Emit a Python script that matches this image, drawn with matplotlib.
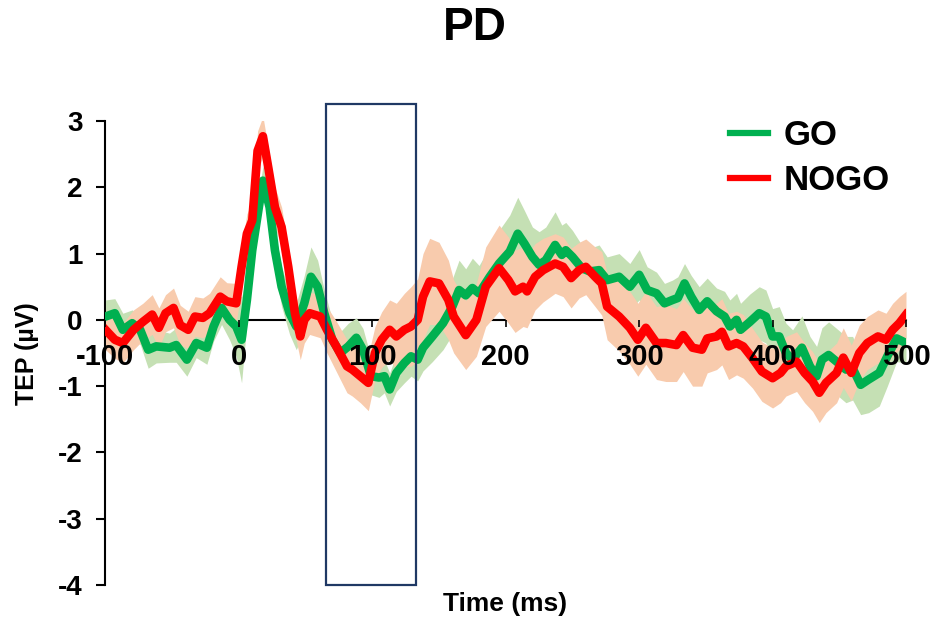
import numpy as np
import matplotlib
matplotlib.use("Agg")
import matplotlib.pyplot as plt
from matplotlib.patches import Rectangle

plt.rcParams['font.family'] = ['Liberation Sans', 'DejaVu Sans']
plt.rcParams['font.weight'] = 'bold'
plt.rcParams['axes.unicode_minus'] = False

# GO condition: time (ms), mean TEP (uV), error half-width
go_t = [-100, -93, -87, -80, -74, -68, -62, -52, -47, -39, -32, -24, -19, -13, -7, -2, 2, 6, 10, 18,
        23, 27, 32, 38, 43, 49, 54, 59, 64, 70, 76, 82, 88, 93, 99, 105, 109, 113, 118, 124,
        129, 134, 138, 145, 153, 160, 165, 170, 175, 180, 188, 195, 203, 209, 214, 220, 225, 230, 237, 242,
        245, 250, 257, 263, 270, 276, 285, 293, 300, 306, 313, 319, 325, 329, 334, 339, 345, 351, 358, 364,
        368, 373, 376, 383, 390, 395, 400, 405, 410, 415, 422, 428, 433, 437, 442, 448, 455, 460, 466, 472,
        480, 486, 493, 500]
go_v = [0.05, 0.1, -0.15, -0.05, -0.15, -0.45, -0.4, -0.42, -0.38, -0.6, -0.35, -0.42, -0.1, 0.18, 0.0, -0.1, -0.3, 0.3, 1.05, 2.1,
        1.7, 1.05, 0.5, 0.1, -0.1, 0.25, 0.65, 0.5, 0.1, -0.3, -0.5, -0.4, -0.27, -0.45, -0.85, -0.87, -0.85, -1.05, -0.8, -0.65,
        -0.55, -0.6, -0.42, -0.25, -0.05, 0.2, 0.45, 0.37, 0.48, 0.4, 0.65, 0.85, 1.03, 1.3, 1.15, 0.95, 0.83, 0.9, 1.13, 0.98,
        1.05, 0.95, 0.78, 0.73, 0.75, 0.6, 0.65, 0.5, 0.68, 0.45, 0.4, 0.25, 0.3, 0.33, 0.55, 0.35, 0.15, 0.28, 0.13, 0.05,
        -0.1, 0.0, -0.15, -0.03, 0.1, 0.05, -0.25, -0.25, -0.5, -0.6, -0.42, -0.7, -0.85, -0.6, -0.53, -0.63, -0.75, -0.73, -0.98, -0.9,
        -0.8, -0.55, -0.28, -0.35]
go_e = [0.25, 0.22, 0.25, 0.2, 0.22, 0.28, 0.25, 0.22, 0.26, 0.25, 0.22, 0.25, 0.22, 0.25, 0.3, 0.45, 0.65, 0.35, 0.25, 0.22,
        0.25, 0.28, 0.3, 0.32, 0.35, 0.42, 0.45, 0.4, 0.35, 0.3, 0.32, 0.35, 0.3, 0.32, 0.28, 0.3, 0.25, 0.25, 0.28, 0.3,
        0.3, 0.32, 0.35, 0.38, 0.4, 0.42, 0.45, 0.4, 0.45, 0.42, 0.45, 0.5, 0.55, 0.55, 0.5, 0.45, 0.5, 0.5, 0.5, 0.45,
        0.42, 0.4, 0.35, 0.35, 0.38, 0.35, 0.35, 0.35, 0.38, 0.35, 0.32, 0.3, 0.3, 0.32, 0.3, 0.32, 0.35, 0.35, 0.35, 0.38,
        0.4, 0.4, 0.4, 0.42, 0.4, 0.4, 0.42, 0.45, 0.45, 0.45, 0.48, 0.45, 0.45, 0.48, 0.5, 0.5, 0.5, 0.48, 0.45, 0.5,
        0.5, 0.45, 0.35, 0.3]

# NOGO condition
nogo_t = [-100, -93, -87, -79, -72, -65, -60, -55, -49, -44, -38, -33, -27, -22, -14, -9, -2, 2, 6, 10,
          14, 18, 22, 27, 32, 37, 42, 46, 49, 53, 61, 66, 73, 81, 85, 91, 97, 102, 107, 113,
          118, 124, 129, 134, 138, 143, 150, 157, 161, 170, 178, 185, 195, 202, 207, 213, 216, 222, 228, 237,
          243, 249, 255, 260, 267, 272, 276, 285, 293, 299, 305, 313, 320, 328, 333, 340, 347, 351, 358, 362,
          367, 373, 378, 385, 392, 400, 406, 410, 418, 424, 430, 435, 440, 448, 453, 459, 465, 471, 479, 485,
          490, 495, 500]
nogo_v = [-0.15, -0.3, -0.35, -0.15, -0.03, 0.08, -0.12, 0.1, 0.18, -0.08, -0.15, 0.05, 0.03, 0.1, 0.35, 0.28, 0.25, 0.8, 1.3, 1.5,
          2.55, 2.77, 2.3, 1.7, 1.4, 0.8, 0.1, -0.25, 0.0, 0.1, 0.05, -0.15, -0.4, -0.7, -0.75, -0.85, -0.95, -0.5, -0.3, -0.15,
          -0.25, -0.15, -0.1, 0.0, 0.35, 0.58, 0.55, 0.3, 0.05, -0.23, 0.0, 0.5, 0.78, 0.6, 0.43, 0.5, 0.43, 0.65, 0.75, 0.85,
          0.8, 0.63, 0.75, 0.8, 0.65, 0.55, 0.2, 0.05, -0.12, -0.3, -0.12, -0.35, -0.35, -0.38, -0.23, -0.42, -0.45, -0.28, -0.25, -0.18,
          -0.4, -0.35, -0.4, -0.58, -0.78, -0.88, -0.8, -0.7, -0.63, -0.8, -0.93, -1.1, -0.95, -0.8, -0.57, -0.8, -0.5, -0.35, -0.25, -0.3,
          -0.15, -0.05, 0.08]
nogo_e = [0.3, 0.28, 0.3, 0.3, 0.28, 0.3, 0.3, 0.28, 0.3, 0.3, 0.28, 0.3, 0.3, 0.3, 0.3, 0.28, 0.3, 0.3, 0.3, 0.28,
          0.3, 0.3, 0.3, 0.3, 0.3, 0.3, 0.32, 0.35, 0.35, 0.32, 0.32, 0.35, 0.38, 0.4, 0.4, 0.4, 0.42, 0.4, 0.42, 0.45,
          0.5, 0.55, 0.6, 0.62, 0.65, 0.65, 0.62, 0.6, 0.55, 0.52, 0.55, 0.6, 0.65, 0.65, 0.62, 0.6, 0.55, 0.5, 0.48, 0.45,
          0.45, 0.45, 0.42, 0.42, 0.45, 0.48, 0.5, 0.52, 0.55, 0.55, 0.55, 0.55, 0.58, 0.55, 0.55, 0.58, 0.55, 0.52, 0.5, 0.5,
          0.5, 0.48, 0.48, 0.45, 0.45, 0.45, 0.45, 0.45, 0.45, 0.45, 0.45, 0.45, 0.45, 0.45, 0.45, 0.42, 0.42, 0.4, 0.4, 0.4,
          0.4, 0.4, 0.35]

# window of interest (ms)
win_start, win_end = 65, 133

go_t, go_v, go_e = np.array(go_t), np.array(go_v), np.array(go_e)
nogo_t, nogo_v, nogo_e = np.array(nogo_t), np.array(nogo_v), np.array(nogo_e)

fig = plt.figure(figsize=(9.41, 6.26), dpi=100)
ax = fig.add_axes([0.1121, 0.0655, 0.8507, 0.7412])

ax.fill_between(go_t, go_v - go_e, go_v + go_e, color='#c5e0b4', lw=0, zorder=3)
ax.fill_between(nogo_t, nogo_v - nogo_e, nogo_v + nogo_e, color='#f8cbad', lw=0, zorder=3)
ax.plot(go_t, go_v, color='#00b050', lw=6.2, label='GO', zorder=4, solid_joinstyle='round')
ax.plot(nogo_t, nogo_v, color='#ff0000', lw=6.2, label='NOGO', zorder=5, solid_joinstyle='round')

ax.add_patch(Rectangle((win_start, -4), win_end - win_start, 7.26, fill=False,
                       edgecolor='#1f3864', lw=1.6, clip_on=False, zorder=6))

ax.set_xlim(-100, 500)
ax.set_ylim(-4, 3)
ax.spines['top'].set_visible(False)
ax.spines['right'].set_visible(False)
ax.spines['bottom'].set_position(('data', 0))
ax.spines['bottom'].set_linewidth(1.5)
ax.spines['left'].set_linewidth(1.5)
# tick labels sit on top of the traces
ax.xaxis.set_zorder(7)

ax.set_xticks(np.arange(-100, 501, 100))
ax.set_yticks(np.arange(-4, 4, 1))
ax.tick_params(axis='x', length=5, width=1.2, pad=12, labelsize=21)
ax.tick_params(axis='y', length=6.5, width=1.5, pad=10, labelsize=20)

fig.text(0.505, 0.955, 'PD', ha='center', va='center', fontsize=33, fontweight='bold')
fig.text(0.537, 0.035, 'Time (ms)', ha='center', va='center', fontsize=19, fontweight='bold')
fig.text(0.029, 0.435, 'TEP (\u00b5V)', ha='center', va='center', rotation=90, fontsize=18, fontweight='bold')

leg = ax.legend(loc='upper left', bbox_to_anchor=(730 / 941, 1 - 119 / 626), bbox_transform=fig.transFigure,
                frameon=False, fontsize=25, handlelength=1.1, handletextpad=0.45, borderpad=0, borderaxespad=0,
                labelspacing=0.35)
for h in leg.get_lines():
    h.set_linewidth(4.5)

fig.savefig('out.png', dpi=100)
